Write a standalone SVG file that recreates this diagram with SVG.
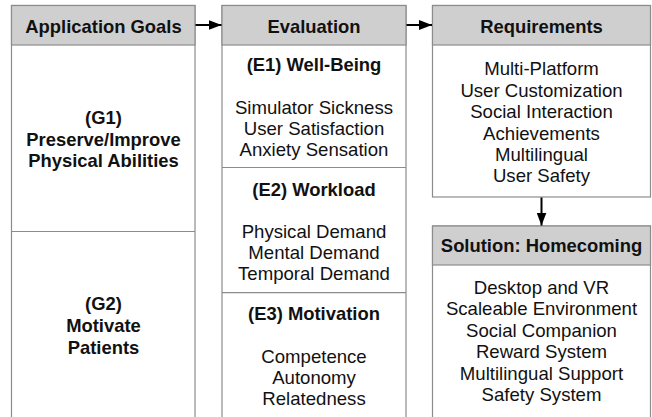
<svg xmlns="http://www.w3.org/2000/svg" width="652" height="417" viewBox="0 0 652 417">
  <style>
    .box { fill: #ffffff; stroke: #8c8c8c; stroke-width: 1.2; }
    .head { fill: #cfcfcf; stroke: #8c8c8c; stroke-width: 1.2; }
    .sep { stroke: #8c8c8c; stroke-width: 1.2; }
    text { font-family: "Liberation Sans", Arial, Helvetica, sans-serif; font-size: 18.6px; fill: #111111; text-anchor: middle; }
    .b { font-weight: bold; font-size: 18.4px; }
    .conn { stroke: #000000; stroke-width: 2; fill: none; }
  </style>
  <defs>
    <marker id="arrow" viewBox="0 0 13 10" refX="13" refY="5" markerWidth="13" markerHeight="10" markerUnits="userSpaceOnUse" orient="auto">
      <path d="M0,0 L13,5 L0,10 Z" fill="#000000"/>
    </marker>
  </defs>

  <!-- Application goals column -->
  <g id="goals">
    <rect class="box" x="11.5" y="5.5" width="183.5" height="420"/>
    <rect class="head" x="11.5" y="5.5" width="183.5" height="39.5"/>
    <text class="b" x="103.5" y="33">Application Goals</text>
    <line class="sep" x1="11.5" y1="231.5" x2="195" y2="231.5"/>
    <text class="b" x="103.5" y="124">(G1)</text>
    <text class="b" x="103.5" y="145.7">Preserve/Improve</text>
    <text class="b" x="103.5" y="167.4">Physical Abilities</text>
    <text class="b" x="103.5" y="310">(G2)</text>
    <text class="b" x="103.5" y="331.8">Motivate</text>
    <text class="b" x="103.5" y="353.5">Patients</text>
  </g>

  <!-- Evaluation column -->
  <g id="evaluation">
    <rect class="box" x="222" y="5.5" width="184" height="420"/>
    <rect class="head" x="222" y="5.5" width="184" height="39.5"/>
    <text class="b" x="314" y="33">Evaluation</text>
    <text class="b" x="314" y="71">(E1) Well-Being</text>
    <text x="314" y="113.5">Simulator Sickness</text>
    <text x="314" y="134.7">User Satisfaction</text>
    <text x="314" y="155.9">Anxiety Sensation</text>
    <line class="sep" x1="222" y1="167.5" x2="406" y2="167.5"/>
    <text class="b" x="314" y="196">(E2) Workload</text>
    <text x="314" y="238">Physical Demand</text>
    <text x="314" y="259.2">Mental Demand</text>
    <text x="314" y="280.4">Temporal Demand</text>
    <line class="sep" x1="222" y1="292.7" x2="406" y2="292.7"/>
    <text class="b" x="314" y="320">(E3) Motivation</text>
    <text x="314" y="362.5">Competence</text>
    <text x="314" y="383.7">Autonomy</text>
    <text x="314" y="405">Relatedness</text>
  </g>

  <!-- Requirements -->
  <g id="requirements">
    <rect class="box" x="432.5" y="5.5" width="218" height="191.5"/>
    <rect class="head" x="432.5" y="5.5" width="218" height="39.5"/>
    <text class="b" x="541.5" y="33">Requirements</text>
    <text x="541.5" y="75.3">Multi-Platform</text>
    <text x="541.5" y="96.7">User Customization</text>
    <text x="541.5" y="118.1">Social Interaction</text>
    <text x="541.5" y="139.5">Achievements</text>
    <text x="541.5" y="160.9">Multilingual</text>
    <text x="541.5" y="182.3">User Safety</text>
  </g>

  <!-- Solution -->
  <g id="solution">
    <rect class="box" x="432.5" y="226" width="218" height="200"/>
    <rect class="head" x="432.5" y="226" width="218" height="39"/>
    <text class="b" x="541.5" y="252">Solution: Homecoming</text>
    <text x="541.5" y="294">Desktop and VR</text>
    <text x="541.5" y="315.4">Scaleable Environment</text>
    <text x="541.5" y="336.8">Social Companion</text>
    <text x="541.5" y="358.2">Reward System</text>
    <text x="541.5" y="379.6">Multilingual Support</text>
    <text x="541.5" y="401">Safety System</text>
  </g>

  <!-- Connectors -->
  <g id="connectors">
    <line class="conn" x1="195.5" y1="25" x2="221.5" y2="25" marker-end="url(#arrow)"/>
    <line class="conn" x1="406.5" y1="25" x2="432" y2="25" marker-end="url(#arrow)"/>
    <line class="conn" x1="541.5" y1="197.5" x2="541.5" y2="225.5" marker-end="url(#arrow)"/>
  </g>
</svg>
